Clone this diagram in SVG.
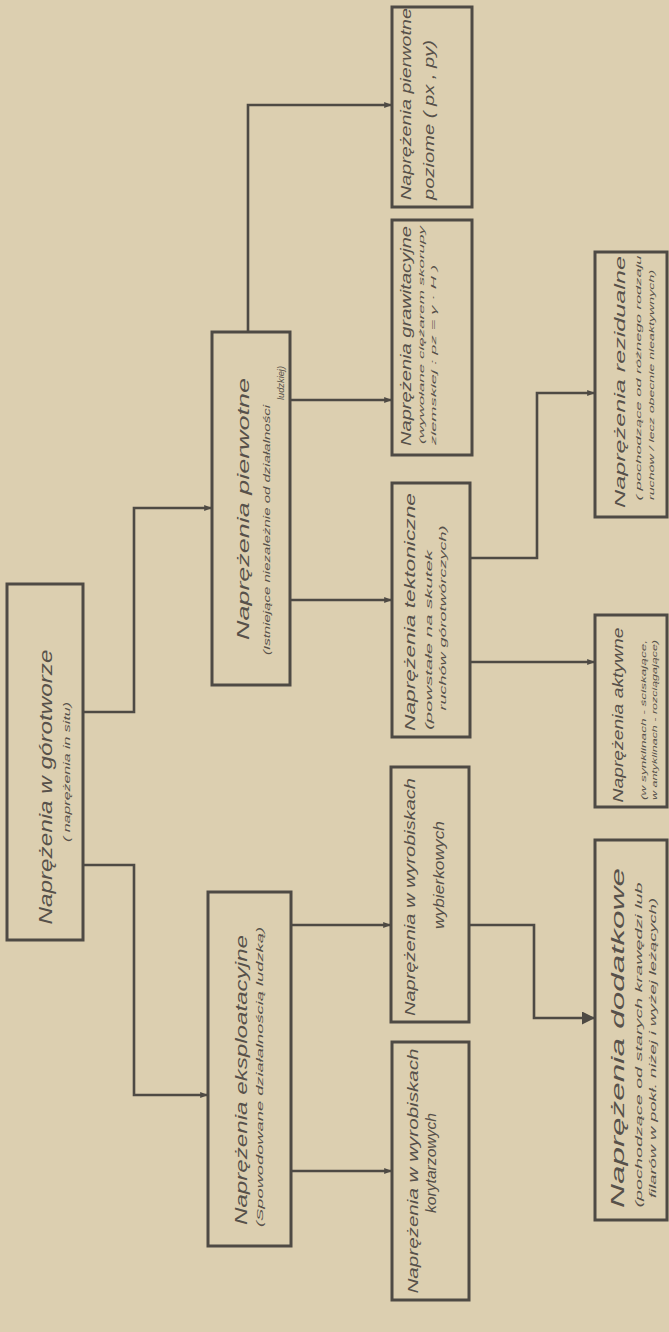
<svg xmlns="http://www.w3.org/2000/svg" width="669" height="1332" viewBox="0 0 669 1332">
<style>
.bg{fill:#dccfb0}
.box{fill:none;stroke:#4e4a44;stroke-width:3}
.ln{fill:none;stroke:#4e4a44;stroke-width:2.6}
text{font-family:"Liberation Sans","DejaVu Sans",sans-serif;font-style:italic;fill:#57514a;text-anchor:middle}
.t1{font-size:16px}
.t2{font-size:9px}
</style>
<defs>
<marker id="a" viewBox="0 0 10 10" refX="10" refY="5" markerWidth="4" markerHeight="3" orient="auto" markerUnits="strokeWidth">
<path d="M0,1 L10,5 L0,9 z" fill="#4e4a44"/>
</marker>
<marker id="ab" viewBox="0 0 10 10" refX="10" refY="5" markerWidth="6" markerHeight="5" orient="auto" markerUnits="strokeWidth">
<path d="M0,0 L10,5 L0,10 z" fill="#4e4a44"/>
</marker>
</defs>
<rect class="bg" x="0" y="0" width="669" height="1332"/>

<g id="connectors">
<path class="ln" d="M83,712 H134 V508 H212" marker-end="url(#a)"/>
<path class="ln" d="M83,865 H134 V1095 H208" marker-end="url(#a)"/>
<path class="ln" d="M248,332 V105 H392" marker-end="url(#a)"/>
<path class="ln" d="M290,400 H392" marker-end="url(#a)"/>
<path class="ln" d="M290,600 H392" marker-end="url(#a)"/>
<path class="ln" d="M470,558 H537 V393 H595" marker-end="url(#a)"/>
<path class="ln" d="M470,662 H595" marker-end="url(#a)"/>
<path class="ln" d="M291,925 H391" marker-end="url(#a)"/>
<path class="ln" d="M291,1171 H392" marker-end="url(#a)"/>
<path class="ln" d="M469,925 H534 V1018 H595" marker-end="url(#ab)"/>
</g>

<g id="root">
<rect class="box" x="7" y="584" width="76" height="356"/>
<text class="t1" transform="translate(52,787) rotate(-90)" textLength="275" lengthAdjust="spacingAndGlyphs" style="font-size:18px">Naprężenia w górotworze</text>
<text class="t2" transform="translate(70,772) rotate(-90)" textLength="140" lengthAdjust="spacingAndGlyphs">( naprężenia in situ)</text>
</g>

<g id="pierwotne">
<rect class="box" x="212" y="332" width="78" height="353"/>
<text class="t1" transform="translate(249,509) rotate(-90)" textLength="262" lengthAdjust="spacingAndGlyphs" style="font-size:17px">Naprężenia  pierwotne</text>
<text class="t2" transform="translate(270,530) rotate(-90)" textLength="250" lengthAdjust="spacingAndGlyphs">(Istniejące niezależnie od działalności</text>
<text class="t2" transform="translate(284,383) rotate(-90)" textLength="34" lengthAdjust="spacingAndGlyphs">ludzkiej)</text>
</g>

<g id="eksploatacyjne">
<rect class="box" x="208" y="892" width="83" height="354"/>
<text class="t1" transform="translate(247,1080) rotate(-90)" textLength="290" lengthAdjust="spacingAndGlyphs" style="font-size:17px">Naprężenia  eksploatacyjne</text>
<text class="t2" transform="translate(263,1077) rotate(-90)" textLength="300" lengthAdjust="spacingAndGlyphs">(Spowodowane działalnością ludzką)</text>
</g>

<g id="poziome">
<rect class="box" x="392" y="7" width="80" height="200"/>
<text class="t1" transform="translate(411,104) rotate(-90)" textLength="192" lengthAdjust="spacingAndGlyphs" style="font-size:15px">Naprężenia pierwotne</text>
<text class="t1" transform="translate(434,120) rotate(-90)" textLength="160" lengthAdjust="spacingAndGlyphs" style="font-size:15px">poziome ( px , py)</text>
</g>

<g id="grawitacyjne">
<rect class="box" x="392" y="220" width="80" height="235"/>
<text class="t1" transform="translate(411,336) rotate(-90)" textLength="220" lengthAdjust="spacingAndGlyphs" style="font-size:14px">Naprężenia grawitacyjne</text>
<text class="t2" transform="translate(424,335) rotate(-90)" textLength="218" lengthAdjust="spacingAndGlyphs" style="font-size:8px">(wywołane ciężarem skorupy</text>
<text class="t2" transform="translate(436,355) rotate(-90)" textLength="180" lengthAdjust="spacingAndGlyphs" style="font-size:8px">ziemskiej :  pz = γ · H )</text>
</g>

<g id="tektoniczne">
<rect class="box" x="392" y="483" width="78" height="254"/>
<text class="t1" transform="translate(415,612) rotate(-90)" textLength="238" lengthAdjust="spacingAndGlyphs" style="font-size:15px">Naprężenia tektoniczne</text>
<text class="t2" transform="translate(432,640) rotate(-90)" textLength="180" lengthAdjust="spacingAndGlyphs">(powstałe na skutek</text>
<text class="t2" transform="translate(446,618) rotate(-90)" textLength="185" lengthAdjust="spacingAndGlyphs">ruchów górotwórczych)</text>
</g>

<g id="rezidualne">
<rect class="box" x="595" y="252" width="72" height="265"/>
<text class="t1" transform="translate(625,382) rotate(-90)" textLength="252" lengthAdjust="spacingAndGlyphs" style="font-size:15px">Naprężenia rezidualne</text>
<text class="t2" transform="translate(641,378) rotate(-90)" textLength="245" lengthAdjust="spacingAndGlyphs" style="font-size:8px">( pochodzące od różnego rodzaju</text>
<text class="t2" transform="translate(654,385) rotate(-90)" textLength="230" lengthAdjust="spacingAndGlyphs" style="font-size:8px">ruchów / lecz obecnie nieaktywnych)</text>
</g>

<g id="aktywne">
<rect class="box" x="595" y="615" width="72" height="192"/>
<text class="t1" transform="translate(623,715) rotate(-90)" textLength="175" lengthAdjust="spacingAndGlyphs" style="font-size:15px">Naprężenia aktywne</text>
<text class="t2" transform="translate(646,720) rotate(-90)" textLength="160" lengthAdjust="spacingAndGlyphs" style="font-size:8px">(w synklinach - ściskające,</text>
<text class="t2" transform="translate(657,720) rotate(-90)" textLength="160" lengthAdjust="spacingAndGlyphs" style="font-size:8px">w antyklinach - rozciągające)</text>
</g>

<g id="dodatkowe">
<rect class="box" x="595" y="840" width="72" height="380"/>
<text class="t1" transform="translate(624,1038) rotate(-90)" textLength="340" lengthAdjust="spacingAndGlyphs" style="font-size:19px">Naprężenia  dodatkowe</text>
<text class="t2" transform="translate(642,1045) rotate(-90)" textLength="325" lengthAdjust="spacingAndGlyphs">(pochodzące od starych krawędzi lub</text>
<text class="t2" transform="translate(656,1048) rotate(-90)" textLength="300" lengthAdjust="spacingAndGlyphs">filarów w pokł. niżej i wyżej leżących)</text>
</g>

<g id="wybierkowe">
<rect class="box" x="391" y="767" width="78" height="255"/>
<text class="t1" transform="translate(415,897) rotate(-90)" textLength="238" lengthAdjust="spacingAndGlyphs" style="font-size:14px">Naprężenia w wyrobiskach</text>
<text class="t1" transform="translate(444,875) rotate(-90)" textLength="108" lengthAdjust="spacingAndGlyphs" style="font-size:14px">wybierkowych</text>
</g>

<g id="korytarzowe">
<rect class="box" x="392" y="1042" width="77" height="258"/>
<text class="t1" transform="translate(418,1171) rotate(-90)" textLength="245" lengthAdjust="spacingAndGlyphs" style="font-size:14px">Naprężenia w wyrobiskach</text>
<text class="t1" transform="translate(436,1163) rotate(-90)" textLength="100" lengthAdjust="spacingAndGlyphs" style="font-size:14px">korytarzowych</text>
</g>
</svg>
